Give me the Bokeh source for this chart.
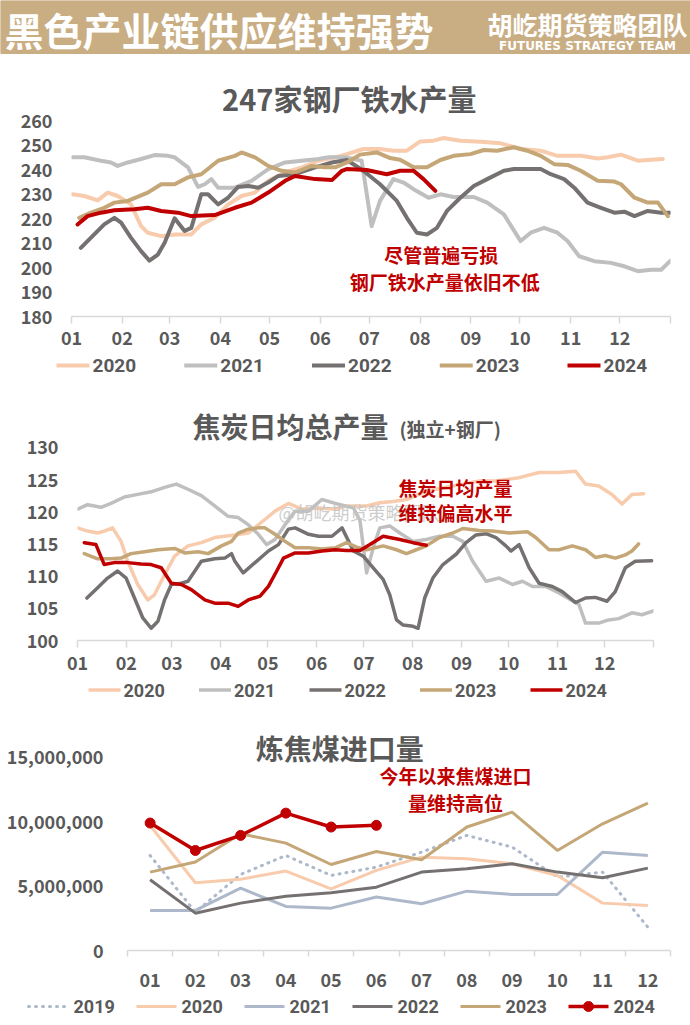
from bokeh.plotting import figure
from bokeh.models import (Range1d, FixedTicker, Label, NumeralTickFormatter)
from bokeh.embed import file_html
from bokeh.resources import INLINE
from bokeh.core.properties import value

# ---------------- data ----------------
month_labels = ["01", "02", "03", "04", "05", "06", "07", "08", "09", "10", "11", "12"]
month_start_days = [0, 31, 60, 91, 121, 152, 182, 213, 244, 274, 305, 335, 366]
years5 = ["2020", "2021", "2022", "2023", "2024"]
years6 = ["2019", "2020", "2021", "2022", "2023", "2024"]

# Chart 1: 247家钢厂铁水产量 (day of year, 万吨)
iron_d_2020 = [0.6, 7.8, 16, 22.1, 28.2, 36.4, 42.5, 46.6, 54.8, 63, 73.2, 79.3, 87.5, 95.7, 103.9, 112.1, 120.2, 130.5, 140.7, 150.9, 161.1, 168.3, 178.3, 188.5, 196.7, 204.9, 213.1, 221.3, 227.4, 237.6, 249.9, 262.2, 274.4, 286.7, 296.9, 311.2, 321.5, 327.6, 335.8, 346, 352.1, 361.3]
iron_v_2020 = [229.9, 229.2, 227.4, 230.6, 229.2, 225.8, 216.9, 214.2, 212.8, 213.5, 213.5, 217.6, 220.3, 225.8, 229.2, 230.6, 235.4, 238.8, 240.9, 243.6, 245, 246.3, 248.4, 248.4, 247.7, 247.7, 251.5, 251.8, 252.9, 251.8, 251.4, 250.7, 248.4, 247.7, 245.6, 245.6, 244.5, 245, 246.1, 243.6, 243.9, 244.3]
iron_d_2021 = [0.6, 7.8, 18, 24.1, 28.2, 34.4, 42.5, 50.7, 58.9, 63, 71.2, 77.3, 81.4, 85.5, 89.6, 99.8, 110, 120.2, 130.5, 140.7, 150.9, 157.1, 167.3, 177.3, 183.4, 188.5, 196.7, 202.9, 209, 218.2, 225.4, 233.5, 245.8, 254, 264.2, 274.4, 280.6, 288.7, 296.9, 303.1, 310.2, 319.4, 329.6, 337.8, 346, 354.2, 360.3, 366]
iron_v_2021 = [245, 245, 243.6, 242.9, 241.5, 242.9, 244.3, 245.9, 245.6, 245, 240.9, 232.9, 234, 236.1, 232.6, 232.6, 235.4, 240.2, 242.9, 243.6, 244.3, 245, 245, 243.6, 216.9, 227.2, 236.1, 234.7, 232, 228.5, 229.9, 228.8, 228.8, 226.5, 221.7, 210.8, 214.2, 216.2, 214.2, 210.8, 204.6, 202.6, 201.9, 200.5, 198.5, 199.1, 199.1, 202.8]
iron_d_2022 = [5.7, 13.9, 20, 26.2, 30.3, 36.4, 42.5, 47.6, 52.8, 56.9, 63, 69.1, 73.2, 79.3, 83.4, 89.6, 95.7, 101.8, 108, 114.1, 120.2, 126.4, 136.6, 148.9, 159.1, 168.3, 178.3, 188.5, 198.8, 204.9, 211, 217.2, 223.3, 229.4, 237.6, 245.8, 254, 264.2, 270.3, 286.7, 292.8, 301, 307.2, 315.3, 323.5, 331.7, 337.8, 344, 352.1, 360.3, 366]
iron_v_2022 = [208, 213.5, 217.6, 220.3, 218.3, 212.1, 206.7, 202.8, 205.3, 210.1, 220.1, 214.9, 216.2, 229.9, 229.9, 225.8, 228.5, 232.9, 233.3, 232.6, 234.7, 237.4, 238.1, 240.9, 242.9, 243.9, 239.5, 234, 227.2, 220.3, 214.2, 213.5, 216.2, 223.1, 228.5, 233.3, 236.1, 239.5, 240.2, 240.2, 238.1, 236.1, 232.6, 226.5, 224.4, 222.4, 222.8, 221, 223.1, 222.4, 222.4]
iron_d_2023 = [4.7, 11.9, 20, 26.2, 34.4, 46.6, 54.8, 63, 71.2, 79.3, 89.6, 99.8, 103.9, 112.1, 120.2, 128.4, 136.6, 146.8, 155, 161.1, 168.3, 176.3, 186.5, 194.7, 200.8, 209, 217.2, 225.4, 233.5, 243.8, 251.9, 260.1, 270.3, 278.5, 286.7, 294.9, 303.1, 311.2, 321.5, 331.7, 335.8, 344, 352.1, 358.3, 364.4]
iron_v_2023 = [220.3, 222.4, 224.4, 226.5, 227.2, 230.6, 234, 234, 236.8, 238.1, 243.6, 245.6, 247, 245, 241.5, 239.5, 238.8, 241.5, 240.9, 240.9, 242.9, 246.1, 247, 244.7, 244, 240.9, 240.9, 243.9, 245.6, 246.3, 248, 247.7, 249.1, 247.7, 245.6, 242.2, 241.9, 239.5, 235.4, 235.1, 234, 228.5, 226.5, 226.5, 221]
iron_d_2024 = [3.7, 9.8, 18, 26.2, 38.4, 46.6, 54.8, 65, 73.2, 87.5, 99.8, 110, 120.2, 130.5, 136.6, 148.9, 159.1, 165.2, 168.1, 180.4, 192.6, 200.8, 209, 215.1, 222.3]
iron_v_2024 = [217.6, 221, 222.4, 223.4, 223.8, 224.4, 223.1, 222.4, 221, 221.4, 224.4, 226.5, 230.6, 235.4, 237.4, 236.1, 235.7, 239.5, 240.2, 239.8, 238.1, 239.5, 239.5, 236.1, 231.3]
iron_yticks = [180, 190, 200, 210, 220, 230, 240, 250, 260]

# Chart 2: 焦炭日均总产量 (day of year, 万吨)
coke_d_2020 = [0, 6.4, 12.8, 17, 22.3, 27.7, 31.9, 38.3, 44.7, 48.9, 55.3, 61.7, 70.2, 78.7, 87.2, 100, 108.5, 119.1, 125.5, 134, 142.6, 153.2, 163.8, 171, 183.7, 192.1, 200.5, 209, 221.6, 234.3, 244.8, 255.3, 265.9, 280.6, 293.3, 305.9, 316.5, 322.8, 331.2, 339.6, 346, 352.3, 359.7]
coke_v_2020 = [117.5, 117, 116.7, 117, 117.5, 115.4, 112.3, 108.7, 106.3, 107.1, 110.2, 113.1, 114.7, 115.2, 116, 116.4, 116.7, 118.8, 120.1, 121.3, 120.4, 120.6, 120.4, 120.9, 120.9, 121.4, 121.6, 121.9, 123.2, 123.8, 124.3, 124.8, 124.8, 125.3, 126.1, 126.1, 126.3, 124.3, 124, 122.7, 121.2, 122.7, 122.8]
coke_d_2021 = [0, 6.4, 14.9, 21.3, 29.8, 38.3, 46.8, 55.3, 62.8, 70.2, 78.7, 87.2, 95.7, 102.1, 108.5, 114.9, 120.2, 125.5, 131.9, 138.3, 146.8, 155.3, 163.8, 175.3, 179.5, 183.7, 187.9, 192.1, 198.4, 204.8, 213.2, 221.6, 230, 238.5, 244.8, 251.1, 259.6, 268, 276.4, 282.7, 289.1, 297.5, 305.9, 318.6, 322.8, 331.2, 337.5, 343.9, 352.3, 358.6, 366]
coke_v_2021 = [120.4, 121.1, 120.7, 121.3, 122.3, 122.7, 123.1, 123.8, 124.3, 123.5, 122.5, 120.9, 119.3, 119.1, 118, 116.5, 114.9, 115.7, 118, 120.1, 120.1, 121.9, 121.3, 120.6, 118.6, 110.5, 114.4, 117.5, 117.8, 116.7, 115.4, 115.7, 116.2, 116.2, 115.4, 112.3, 109.2, 109.7, 108.7, 109.2, 108.4, 108.4, 107.4, 105.6, 102.7, 102.7, 103.2, 103.4, 104.3, 104, 104.6]
coke_d_2022 = [6, 12.8, 19.1, 25.5, 30.9, 36.2, 41.5, 46.8, 51.1, 55.3, 59.6, 66, 70.2, 78.7, 87.2, 93.6, 97.9, 100, 105.3, 112.8, 121.3, 127.7, 134, 138.3, 146.8, 153.2, 161.7, 168.1, 175.3, 181.6, 187.9, 194.2, 198.4, 202.7, 206.9, 213.2, 216.4, 220.6, 225.8, 232.2, 240.6, 246.9, 253.2, 259.6, 265.9, 272.2, 275.4, 280.6, 287, 293.3, 301.7, 308, 316.5, 322.8, 329.1, 336.5, 341.7, 348.1, 354.4, 364.9]
coke_v_2022 = [106.6, 108.2, 109.7, 110.8, 109.7, 106.6, 103.5, 101.9, 103, 106.3, 108.7, 108.9, 109.2, 112.3, 112.7, 112.8, 113.5, 112.3, 110.5, 112.1, 113.9, 114.9, 117.3, 117.5, 116.5, 116.2, 116.2, 117.5, 113.9, 113.1, 111.3, 109.5, 107.1, 103.2, 102.4, 102.2, 101.9, 106.6, 109.7, 111.8, 113.4, 115.2, 116.4, 116.6, 116, 114.7, 113.9, 114.9, 111.3, 108.9, 108.4, 107.6, 105.9, 106.6, 106.7, 106.1, 107.6, 111.3, 112.3, 112.4]
coke_d_2023 = [4.3, 12.8, 21.3, 27.7, 34, 42.6, 51.1, 61.7, 68.1, 76.6, 83, 91.5, 97.9, 102.1, 108.5, 114.9, 119.1, 125.5, 131.9, 138.3, 146.8, 155.3, 163.8, 171, 177.4, 183.7, 194.2, 202.7, 209, 215.3, 221.6, 230, 238.5, 244.8, 255.3, 263.8, 274.3, 285.9, 291.2, 299.6, 305.9, 314.4, 322.8, 329.1, 335.4, 341.7, 348.1, 352.3, 356.5]
coke_v_2023 = [113.5, 112.7, 112.7, 112.8, 113.5, 113.8, 114.1, 114.3, 113.6, 113.8, 113.5, 114.7, 115.4, 116.7, 117.3, 117.5, 117.5, 116.5, 115.4, 114.4, 114.4, 114.2, 114.4, 115.2, 114.5, 114.1, 114.7, 114.1, 113.5, 114.1, 114.7, 116, 116.7, 117.4, 117.1, 117, 116.7, 116.9, 116, 114.1, 114.1, 114.7, 114.1, 112.9, 113.2, 112.8, 113.3, 113.9, 115]
coke_d_2024 = [4.3, 11.7, 17, 23.4, 31.9, 40.4, 46.8, 53.2, 59.6, 66, 72.3, 80.9, 87.2, 95.7, 102.1, 108.5, 116, 121.3, 126.6, 130.9, 138.3, 146.8, 155.3, 163.8, 171, 179.5, 185.8, 194.2, 204.8, 213.2, 221.6]
coke_v_2024 = [115.2, 114.9, 111.8, 112.1, 112.1, 111.9, 111.8, 111.3, 108.9, 108.7, 107.9, 106.3, 105.8, 105.8, 105.3, 106.3, 106.9, 108.4, 110.8, 112.8, 113.6, 113.6, 113.9, 114.1, 114, 114, 114.9, 116.2, 115.7, 115.2, 114.8]
coke_yticks = [100, 105, 110, 115, 120, 125, 130]

# Chart 3: 炼焦煤进口量 (吨, monthly)
import_month_pos = [1, 2, 3, 4, 5, 6, 7, 8, 9, 10, 11, 12]
imp_2019 = [7380000, 2980000, 5910000, 7380000, 5830000, 6480000, 7640000, 8940000, 8030000, 5700000, 6090000, 1810000]
imp_2020 = [9710000, 5260000, 5540000, 6170000, 4790000, 6220000, 7250000, 7120000, 6740000, 5830000, 3680000, 3500000]
imp_2021 = [3110000, 3110000, 4840000, 3420000, 3290000, 4150000, 3630000, 4610000, 4350000, 4350000, 7640000, 7380000]
imp_2022 = [5490000, 2900000, 3680000, 4220000, 4480000, 4920000, 6090000, 6350000, 6740000, 6090000, 5650000, 6400000]
imp_2023 = [6090000, 6870000, 9070000, 8340000, 6680000, 7690000, 7050000, 9590000, 10750000, 7770000, 9840000, 11450000]
imp_2024 = [9900000, 7770000, 8940000, 10670000, 9590000, 9720000]
imp_yticks = [0, 5000000, 10000000, 15000000]

# ---------------- styles ----------------
FONT = "Noto Sans CJK SC"
LEG_FONT = "Roboto"
TXT = "#595959"
RED = "#C00000"
TAN = "#C9AE84"
C2020 = "#F8CBAD"
C2021 = "#BFBFBF"
C2022 = "#767171"
C2023 = "#C5A676"
C2024 = "#C00000"
CBLUE = "#ADB9CA"
AXIS_C = "#D9D9D9"
W = 690


def base_fig(height, xr, yr, left, right, top, bottom):
    p = figure(width=W, height=height, x_range=xr, y_range=yr,
               output_backend="svg", toolbar_location=None,
               min_border_left=left, min_border_right=right,
               min_border_top=top, min_border_bottom=bottom)
    p.outline_line_color = None
    p.grid.visible = False
    for ax in p.axis:
        ax.major_label_text_font = FONT
        ax.major_label_text_font_style = "bold"
        ax.major_label_text_font_size = "18px"
        ax.major_label_text_color = TXT
    p.yaxis.axis_line_color = None
    p.yaxis.major_tick_line_color = None
    p.yaxis.minor_tick_line_color = None
    p.yaxis.major_tick_out = 0
    p.yaxis.major_tick_in = 0
    p.xaxis.axis_line_color = AXIS_C
    p.xaxis.axis_line_width = 1.5
    p.xaxis.major_tick_line_color = AXIS_C
    p.xaxis.major_tick_line_width = 1.5
    p.xaxis.minor_tick_line_color = None
    return p


def legend_strip(top, height, ymid, labels, styles, x_start, step, key_len, gap, font_px,
                 marker_idx=None):
    """A thin strip (own figure, pixel coordinates) that holds a chart's legend."""
    lf = figure(width=W, height=height, x_range=Range1d(0, W),
                y_range=Range1d(top + height, top),
                output_backend="svg", toolbar_location=None, min_border=0,
                x_axis_type=None, y_axis_type=None)
    lf.grid.visible = False
    lf.outline_line_color = None
    for i, (lab, st) in enumerate(zip(labels, styles)):
        x0 = x_start + i * step
        lf.segment(x0=[x0], y0=[ymid], x1=[x0 + key_len], y1=[ymid], **st)
        if marker_idx is not None and i == marker_idx:
            lf.scatter(x=[x0 + key_len / 2], y=[ymid], size=10,
                       fill_color=st["line_color"], line_color=st["line_color"])
        lf.text(x=[x0 + key_len + gap], y=[ymid], text=[lab], text_font=value(LEG_FONT),
                text_font_size=f"{font_px}px", text_font_style="bold",
                text_color=TXT, text_align="left", text_baseline="middle")
    return lf


def add_label(p, x, y, text, size, color, align="center", alpha=1.0, style="bold"):
    p.add_layout(Label(x=x, y=y, text=text, text_font=FONT,
                       text_font_size=f"{size}px", text_font_style=style,
                       text_color=color, text_align=align,
                       text_baseline="middle", text_alpha=alpha))


month_overrides = {d: (month_labels[i] if i < 12 else "") for i, d in enumerate(month_start_days)}

# ---------------- header ----------------
hdr = figure(width=W, height=57, x_range=Range1d(0, W), y_range=Range1d(57, 0),
             output_backend="svg", toolbar_location=None, min_border=0,
             x_axis_type=None, y_axis_type=None)
hdr.grid.visible = False
hdr.outline_line_color = None
hdr.quad(left=[0], right=[W], top=[0], bottom=[53], color=TAN)
hdr.text(x=[4], y=[28.5], text=["黑色产业链供应维持强势"], text_font=value(FONT),
         text_font_size="39px", text_font_style="bold", text_color="white",
         text_align="left", text_baseline="middle")
hdr.text(x=[587], y=[23], text=["胡屹期货策略团队"], text_font=value(FONT),
         text_font_size="25px", text_font_style="bold", text_color="white",
         text_align="center", text_baseline="middle")
hdr.text(x=[587], y=[45], text=["FUTURES STRATEGY TEAM"], text_font=value("DejaVu Sans"),
         text_font_size="12px", text_font_style="bold", text_color="white",
         text_align="center", text_baseline="middle")

# ---------------- chart 1 ----------------
p1 = base_fig(296, Range1d(0, 366), Range1d(180, 278), 71, 20, 19, 37)
p1.xaxis.ticker = FixedTicker(ticks=month_start_days)
p1.xaxis.major_label_overrides = month_overrides
p1.xaxis.major_tick_out = 7
p1.xaxis.major_tick_in = 0
p1.xaxis.major_label_standoff = 7
p1.yaxis.ticker = FixedTicker(ticks=iron_yticks)
p1.yaxis.major_label_standoff = 19

colors5 = [C2020, C2021, C2022, C2023, C2024]
series1 = [(iron_d_2020, iron_v_2020), (iron_d_2021, iron_v_2021), (iron_d_2022, iron_v_2022),
           (iron_d_2023, iron_v_2023), (iron_d_2024, iron_v_2024)]
for (xs, ys), c in zip(series1, colors5):
    p1.line(xs, ys, line_color=c, line_width=4, line_join="round", line_cap="round")

add_label(p1, 169.7, 269.2, "247家钢厂铁水产量", 29, TXT)
add_label(p1, 226, 205.4, "尽管普遍亏损", 19, RED)
add_label(p1, 228, 194.4, "钢厂铁水产量依旧不低", 19, RED)

leg1 = legend_strip(353, 24, 365, years5, [dict(line_color=c, line_width=4) for c in colors5],
                    56, 127.75, 33, 3, 19)

# ---------------- chart 2 ----------------
p2 = base_fig(301, Range1d(0, 366), Range1d(100, 137.6), 77, 37, 21, 38)
p2.xaxis.ticker = FixedTicker(ticks=month_start_days)
p2.xaxis.major_label_overrides = month_overrides
p2.xaxis.major_tick_out = 7
p2.xaxis.major_tick_in = 0
p2.xaxis.major_label_standoff = 8
p2.yaxis.ticker = FixedTicker(ticks=coke_yticks)
p2.yaxis.major_label_standoff = 19

add_label(p2, 127.7, 119.9, "@胡屹期货策略团队", 18, "#C4C4C4", align="left", alpha=0.85, style="normal")

series2 = [(coke_d_2020, coke_v_2020), (coke_d_2021, coke_v_2021), (coke_d_2022, coke_v_2022),
           (coke_d_2023, coke_v_2023), (coke_d_2024, coke_v_2024)]
for (xs, ys), c in zip(series2, colors5):
    p2.line(xs, ys, line_color=c, line_width=3.5, line_join="round", line_cap="round")

add_label(p2, 135.3, 133.4, "焦炭日均总产量", 28, TXT)
add_label(p2, 236.8, 133.0, "(独立+钢厂)", 19, TXT)
add_label(p2, 240.2, 123.8, "焦炭日均产量", 19, RED)
add_label(p2, 240.2, 119.9, "维持偏高水平", 19, RED)

leg2 = legend_strip(678, 24, 689.5, years5, [dict(line_color=c, line_width=3.5) for c in colors5],
                    88, 110.5, 32, 3, 18)

# ---------------- chart 3 ----------------
p3 = base_fig(291, Range1d(0.5, 12.5), Range1d(0, 17400000), 127, 20, 24, 43)
p3.xaxis.ticker = FixedTicker(ticks=import_month_pos,
                              minor_ticks=[m - 0.5 for m in import_month_pos] + [12.5])
p3.xaxis.major_label_overrides = {m: month_labels[i] for i, m in enumerate(import_month_pos)}
p3.xaxis.major_tick_out = 0
p3.xaxis.major_tick_in = 0
p3.xaxis.major_tick_line_color = None
p3.xaxis.minor_tick_line_color = AXIS_C
p3.xaxis.minor_tick_line_width = 1.5
p3.xaxis.minor_tick_out = 6
p3.xaxis.minor_tick_in = 0
p3.xaxis.major_label_standoff = 16
p3.yaxis.ticker = FixedTicker(ticks=imp_yticks)
p3.yaxis.formatter = NumeralTickFormatter(format="0,0")
p3.yaxis.major_label_standoff = 24

style19 = dict(line_color=CBLUE, line_width=3, line_dash="1 6", line_cap="round")
style20 = dict(line_color=C2020, line_width=3)
style21 = dict(line_color=CBLUE, line_width=3)
style22 = dict(line_color=C2022, line_width=3)
style23 = dict(line_color=C2023, line_width=3)
style24 = dict(line_color=C2024, line_width=3.5)
p3.line(import_month_pos, imp_2019, **style19)
p3.line(import_month_pos, imp_2020, **style20)
p3.line(import_month_pos, imp_2021, **style21)
p3.line(import_month_pos, imp_2022, **style22)
p3.line(import_month_pos, imp_2023, **style23)
p3.line(import_month_pos[:len(imp_2024)], imp_2024, **style24)
p3.scatter(import_month_pos[:len(imp_2024)], imp_2024, size=10, fill_color=C2024, line_color=C2024)

add_label(p3, 5.19, 15700000, "炼焦煤进口量", 28, TXT)
add_label(p3, 7.75, 13600000, "今年以来焦煤进口", 19, RED)
add_label(p3, 7.75, 11500000, "量维持高位", 19, RED)

leg3 = legend_strip(993, 28, 1006, years6, [style19, style20, style21, style22, style23, style24],
                    28, 108, 40, 5, 18, marker_idx=5)

open("out.html", "w").write(file_html([hdr, p1, leg1, p2, leg2, p3, leg3], INLINE))
